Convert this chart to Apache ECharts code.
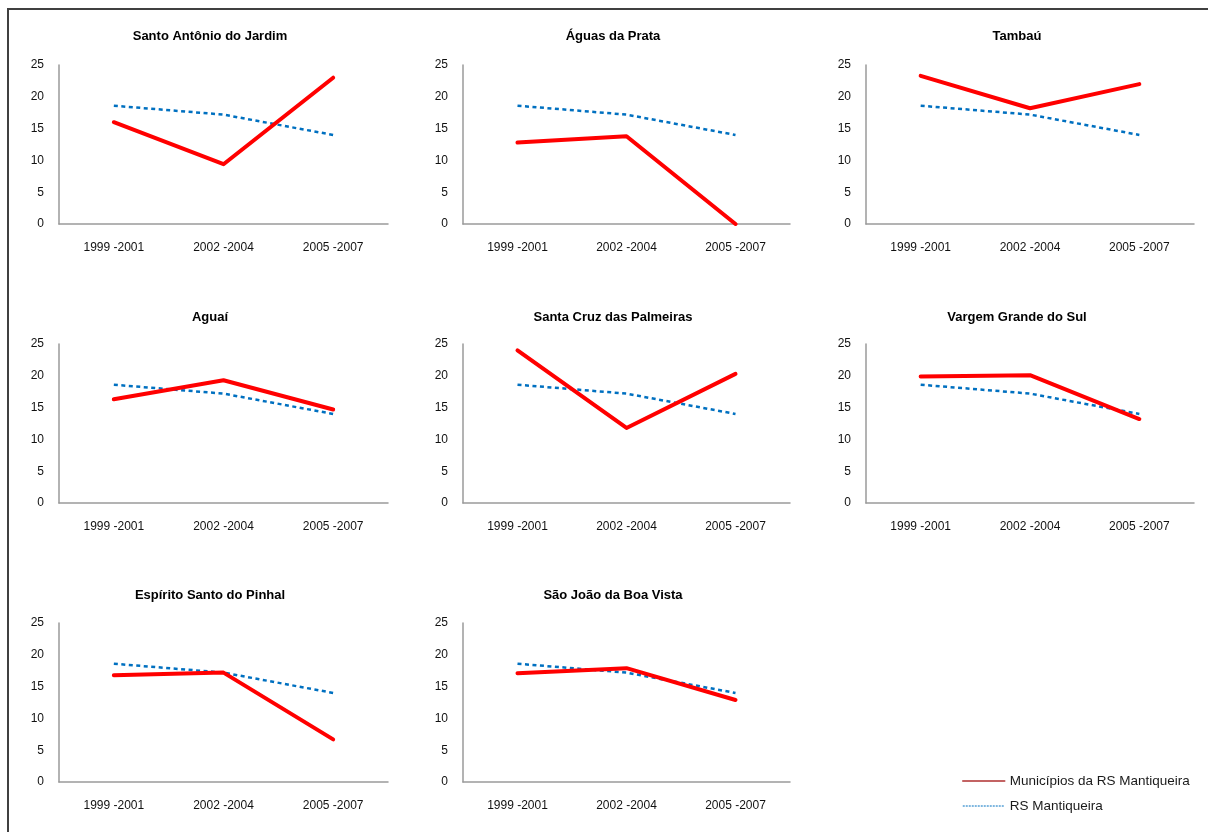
<!DOCTYPE html>
<html>
<head>
<meta charset="utf-8">
<script src="https://cdn.jsdelivr.net/npm/echarts@6/dist/echarts.min.js"></script>
<style>
  html, body { margin: 0; padding: 0; background: #fff; }
  #chart { width: 1208px; height: 832px; }
</style>
</head>
<body>
<div id="chart"></div>
<script>
// Periods on the x axis
const periods = ['1999 -2001', '2002 -2004', '2005 -2007'];

// Municipality names (panel titles), in panel order
const municipios = [
  'Santo Antônio do Jardim', 'Águas da Prata', 'Tambaú',
  'Aguaí', 'Santa Cruz das Palmeiras', 'Vargem Grande do Sul',
  'Espírito Santo do Pinhal', 'São João da Boa Vista'
];

// Values per municipality
const santoAntonioDoJardim = [16.0, 9.4, 23.0];
const aguasDaPrata = [12.8, 13.8, 0];
const tambau = [23.3, 18.2, 22.0];
const aguai = [16.3, 19.3, 14.7];
const santaCruzDasPalmeiras = [24.0, 11.8, 20.3];
const vargemGrandeDoSul = [19.9, 20.1, 13.2];
const espiritoSantoDoPinhal = [16.8, 17.2, 6.7];
const saoJoaoDaBoaVista = [17.1, 17.9, 12.9];

// Regional reference (same in every panel)
const rsMantiqueira = [18.6, 17.2, 14.0];

// Y axis scale
const yMin = 0, yMax = 25, yStep = 5;

const seriesMunicipio = [
  santoAntonioDoJardim, aguasDaPrata, tambau,
  aguai, santaCruzDasPalmeiras, vargemGrandeDoSul,
  espiritoSantoDoPinhal, saoJoaoDaBoaVista
];

const NAME_MUN = 'Municípios da RS Mantiqueira';
const NAME_RS = 'RS Mantiqueira';
const FONT = 'Liberation Sans, Arial, sans-serif';

// Panel geometry
const colLeft = [59, 463, 866];
const colRight = [388, 790, 1194];
const colTitle = [205, 608, 1012];
const rowTop = [65, 344, 623];
const plotH = 159;
const rowTitle = [25, 306, 584];

const grids = [], xAxes = [], yAxes = [], series = [], titles = [];

municipios.forEach((name, i) => {
  const c = i % 3, r = Math.floor(i / 3);
  grids.push({
    left: colLeft[c], top: rowTop[r],
    width: colRight[c] - colLeft[c], height: plotH
  });
  titles.push({
    text: name, left: colTitle[c], top: rowTitle[r], textAlign: 'center',
    textStyle: { fontFamily: FONT, fontSize: 13, fontWeight: 'bold', color: '#000' }
  });
  xAxes.push({
    type: 'category', gridIndex: i, data: periods, boundaryGap: true,
    axisLine: { lineStyle: { color: '#9a9a9a', width: 1.5 } },
    axisTick: { show: false },
    axisLabel: { fontFamily: FONT, fontSize: 12, color: '#111', margin: 18 },
    splitLine: { show: false }
  });
  yAxes.push({
    type: 'value', gridIndex: i, min: yMin, max: yMax, interval: yStep,
    axisLine: { show: true, lineStyle: { color: '#9a9a9a', width: 1.5 } },
    axisTick: { show: false },
    axisLabel: { fontFamily: FONT, fontSize: 12, color: '#111', margin: 15 },
    splitLine: { show: false }
  });
  series.push({
    name: NAME_RS, type: 'line', xAxisIndex: i, yAxisIndex: i,
    data: rsMantiqueira, symbol: 'none', silent: true, z: 2,
    lineStyle: { color: '#0070C0', width: 2.5, type: [4, 3.5] },
    itemStyle: { color: '#0070C0' }
  });
  series.push({
    name: NAME_MUN, type: 'line', xAxisIndex: i, yAxisIndex: i,
    data: seriesMunicipio[i], symbol: 'none', silent: true, z: 3,
    lineStyle: { color: '#FF0000', width: 4, cap: 'round', join: 'round' },
    itemStyle: { color: '#FF0000' }
  });
});

const chart = echarts.init(document.getElementById('chart'), null, { renderer: 'canvas' });
chart.setOption({
  backgroundColor: '#fff',
  animation: false,
  title: titles,
  grid: grids,
  xAxis: xAxes,
  yAxis: yAxes,
  series: series,
  legend: {
    orient: 'vertical', left: 962, top: 774, padding: 0,
    itemWidth: 42, itemHeight: 14, itemGap: 11,
    textStyle: { fontFamily: FONT, fontSize: 13.5, color: '#1a1a1a' },
    data: [
      { name: NAME_MUN, itemStyle: { opacity: 0 },
        lineStyle: { width: 1.5, color: '#B03030', type: 'solid' } },
      { name: NAME_RS, itemStyle: { opacity: 0 },
        lineStyle: { width: 1, color: '#0070C0', type: [2, 1] } }
    ]
  },
  graphic: [{
    type: 'rect', silent: true,
    shape: { x: 8, y: 9, width: 1400, height: 1000 },
    style: { fill: 'none', stroke: '#404040', lineWidth: 2 }
  }]
});
</script>
</body>
</html>
